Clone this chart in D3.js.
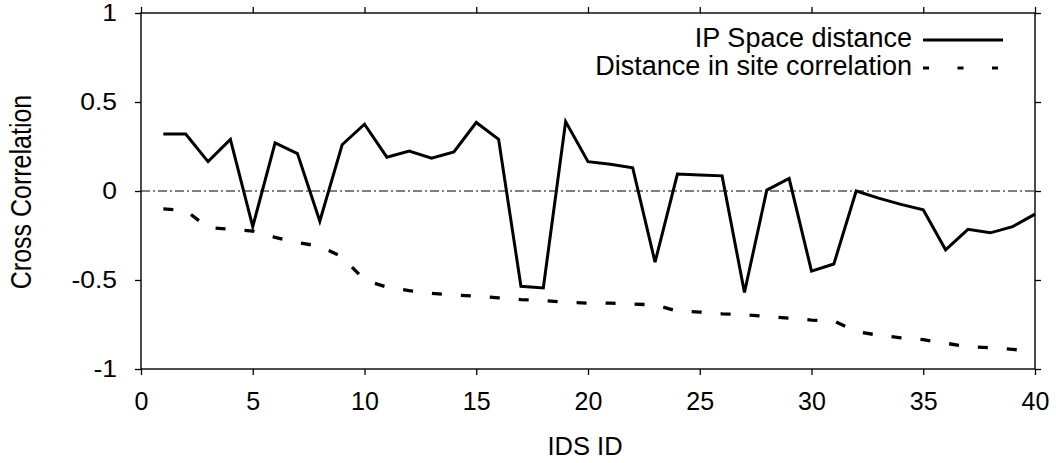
<!DOCTYPE html>
<html>
<head>
<meta charset="utf-8">
<script src="https://cdn.jsdelivr.net/npm/d3@7"></script>
<style>
  html, body { margin: 0; padding: 0; background: #fff; }
  svg { display: block; }
  text { font-family: "Liberation Sans", Arial, Helvetica, sans-serif; fill: #000; }
</style>
</head>
<body>
<svg id="chart" width="1056" height="463"></svg>
<script>
// IDS identifiers on the x axis
const idsIds = d3.range(1, 41);

// Cross correlation against IP space distance
const ipSpaceDistance = [
  0.32, 0.32, 0.165, 0.29, -0.20, 0.27, 0.21, -0.17, 0.26, 0.375,
  0.19, 0.225, 0.185, 0.22, 0.385, 0.29, -0.535, -0.545, 0.39, 0.165,
  0.15, 0.13, -0.40, 0.095, 0.09, 0.085, -0.57, 0.005, 0.07, -0.45,
  -0.41, 0.0, -0.04, -0.075, -0.105, -0.33, -0.215, -0.235, -0.20, -0.13
];

// Cross correlation against distance in site correlation
const siteCorrelationDistance = [
  -0.10, -0.11, -0.205, -0.215, -0.225, -0.26, -0.29, -0.31, -0.37, -0.50,
  -0.54, -0.56, -0.575, -0.585, -0.59, -0.60, -0.61, -0.615, -0.625, -0.63,
  -0.63, -0.635, -0.64, -0.675, -0.68, -0.69, -0.695, -0.705, -0.715, -0.725,
  -0.73, -0.79, -0.81, -0.825, -0.835, -0.855, -0.875, -0.88, -0.89, -0.90
];

const xTicks = [0, 5, 10, 15, 20, 25, 30, 35, 40];
const yTicks = [-1, -0.5, 0, 0.5, 1];
const seriesNames = ["IP Space distance", "Distance in site correlation"];

const svg = d3.select("#chart");
const plotLeft = 141, plotRight = 1035, plotTop = 13, plotBottom = 369;

const x = d3.scaleLinear().domain([0, 40]).range([plotLeft, plotRight]);
const y = d3.scaleLinear().domain([-1, 1]).range([plotBottom, plotTop]);

const fmtY = d => d === 0 ? "0" : (Number.isInteger(d) ? String(d) : d.toFixed(1));

// Axes with outward ticks on all four sides
const axB = svg.append("g").attr("transform", `translate(0,${plotBottom})`)
  .call(d3.axisBottom(x).tickValues(xTicks).tickSize(6).tickPadding(17).tickFormat(d => d));
const axT = svg.append("g").attr("transform", `translate(0,${plotTop})`)
  .call(d3.axisTop(x).tickValues(xTicks).tickSize(6).tickFormat(""));
const axL = svg.append("g").attr("transform", `translate(${plotLeft},0)`)
  .call(d3.axisLeft(y).tickValues(yTicks).tickSize(6).tickPadding(18).tickFormat(fmtY));
const axR = svg.append("g").attr("transform", `translate(${plotRight},0)`)
  .call(d3.axisRight(y).tickValues(yTicks).tickSize(6).tickFormat(""));

[axB, axT, axL, axR].forEach(g => {
  g.select(".domain").remove();
  g.selectAll(".tick line").attr("stroke", "#000").attr("stroke-width", 1.3);
});

// Tick label typography
axB.selectAll(".tick text")
  .attr("font-size", 25)
  .attr("dy", "0.71em")
  .attr("font-family", "Liberation Sans, Arial, sans-serif");
axL.selectAll(".tick text")
  .attr("font-size", 23)
  .attr("font-family", "Liberation Sans, Arial, sans-serif")
  .each(function () {
    const t = d3.select(this);
    const tx = +t.attr("x");
    t.attr("x", null)
     .attr("transform", `translate(${tx},0) scale(1.15,1)`);
  });

// Frame
svg.append("rect")
  .attr("x", plotLeft).attr("y", plotTop)
  .attr("width", plotRight - plotLeft).attr("height", plotBottom - plotTop)
  .attr("fill", "none").attr("stroke", "#000").attr("stroke-width", 1.4);

// Zero reference line
svg.append("line")
  .attr("x1", x(0)).attr("x2", x(40))
  .attr("y1", y(0)).attr("y2", y(0))
  .attr("stroke", "#000").attr("stroke-width", 1.2)
  .attr("stroke-dasharray", "9,3,2,3");

const line = d3.line()
  .x((d, i) => x(idsIds[i]))
  .y(d => y(d));

svg.append("path")
  .datum(ipSpaceDistance)
  .attr("d", line)
  .attr("fill", "none").attr("stroke", "#000")
  .attr("stroke-width", 3).attr("stroke-linejoin", "miter");

svg.append("path")
  .datum(siteCorrelationDistance)
  .attr("d", line)
  .attr("fill", "none").attr("stroke", "#000")
  .attr("stroke-width", 3.3)
  .attr("stroke-dasharray", "10,19");

// Legend
const legend = svg.append("g");
const legendRows = [
  { name: seriesNames[0], ty: 47, ly: 40, dash: null },
  { name: seriesNames[1], ty: 75, ly: 68, dash: "6,28.5" }
];
legendRows.forEach(r => {
  legend.append("text")
    .attr("x", 912).attr("y", r.ty)
    .attr("text-anchor", "end")
    .attr("font-size", 27)
    .text(r.name);
  const l = legend.append("line")
    .attr("x1", 923).attr("x2", 1003)
    .attr("y1", r.ly).attr("y2", r.ly)
    .attr("stroke", "#000").attr("stroke-width", 3.2);
  if (r.dash) l.attr("stroke-dasharray", r.dash);
});

// Axis titles
svg.append("text")
  .attr("x", 585).attr("y", 455)
  .attr("text-anchor", "middle")
  .attr("font-size", 25.5)
  .text("IDS ID");

svg.append("text")
  .attr("transform", `translate(31,192) rotate(-90) scale(1,1.2)`)
  .attr("text-anchor", "middle")
  .attr("font-size", 25)
  .text("Cross Correlation");
</script>
</body>
</html>
